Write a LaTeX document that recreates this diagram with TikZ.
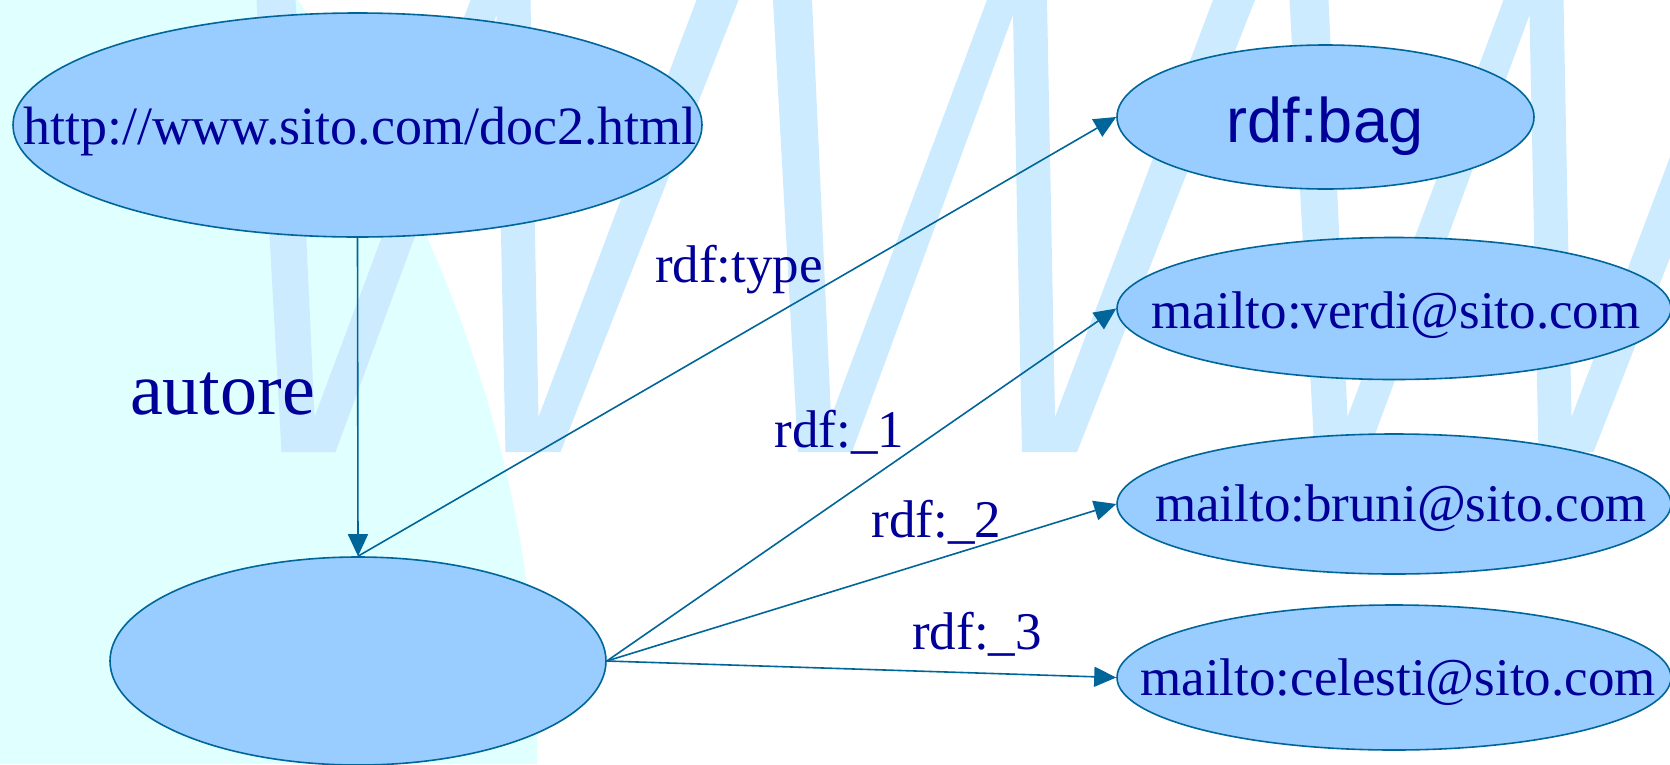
\documentclass[tikz,border=0pt]{standalone}
\usepackage{fontspec}
\setmainfont{Liberation Serif}
\newfontfamily\sansf{Liberation Sans}
\usetikzlibrary{shapes.geometric,arrows.meta}
\definecolor{bgcyan}{RGB}{224,255,255}
\definecolor{wmblue}{RGB}{204,235,255}
\definecolor{fillblue}{RGB}{153,204,255}
\definecolor{edgeblue}{RGB}{0,102,153}
\definecolor{navy}{RGB}{0,0,153}
\tikzset{
  ell/.style={ellipse, draw=edgeblue, fill=fillblue, line width=1.6pt, inner sep=0pt},
  txt/.style={text=navy, font=\fontsize{53}{60}\selectfont, anchor=base, inner sep=0pt},
  sanstxt/.style={text=navy, font=\sansf\fontsize{63}{70}\selectfont, anchor=base, inner sep=0pt},
  bigtxt/.style={text=navy, font=\fontsize{74}{80}\selectfont, anchor=base, inner sep=0pt},
  arr/.style={draw=edgeblue, line width=1.6pt, -{Triangle[length=22pt,width=20pt]}},
  wm/.style={fill=wmblue},
}
\begin{document}
\begin{tikzpicture}[x=1pt,y=-1pt]
\useasboundingbox (0,0) rectangle (1670,764);
\clip (0,0) rectangle (1670,764);
% background
\fill[white] (0,0) rectangle (1670,764);
\fill[bgcyan] (0,0) -- (298,0) .. controls (463,254.5) and (542.7,509.1) .. (537,764) -- (0,764) -- cycle;
% watermark W W W
\foreach \s in {-516.5,0,516.5}{
  \fill[wm, shift={(\s,0)}] (773,0) -- (798,452) -- (852,452) -- (1013,15) -- (1022,452)
    -- (1077,452) -- (1255,0) -- (1213,0) -- (1055,417) -- (1047,0) -- (987,0)
    -- (831,417) -- (812,0) -- cycle;
}
% ellipses
\node[ell, minimum width=689pt, minimum height=224pt] (http) at (357.5,125) {};
\node[ell, minimum width=496pt, minimum height=208pt] (blank) at (358,661) {};
\node[ell, minimum width=417pt, minimum height=144pt] (bag) at (1325.5,117) {};
\node[ell, minimum width=554pt, minimum height=142pt] (verdi) at (1394,308.5) {};
\node[ell, minimum width=554pt, minimum height=140pt] (bruni) at (1394,504) {};
\node[ell, minimum width=554pt, minimum height=145pt] (celesti) at (1394,677.5) {};
% texts in ellipses
\node[txt, font=\fontsize{54}{60}\selectfont] (thttp) at (360,144) {http://www.sito.com/doc2.html};
\node[sanstxt] (tbag) at (1325,142) {rdf:bag};
\node[txt] (tverdi) at (1396,328) {mailto:verdi@sito.com};
\node[txt] (tbruni) at (1401,521) {mailto:bruni@sito.com};
\node[txt] (tcelesti) at (1398,695) {mailto:celesti@sito.com};
% connectors
\draw[arr] (http.south) -- (blank.north);
\draw[arr] (blank.north) -- (bag.west);
\draw[arr] (blank.east) -- (verdi.west);
\draw[arr] (blank.east) -- (bruni.west);
\draw[arr] (blank.east) -- (celesti.west);
% labels
\node[bigtxt] (lautore) at (222.5,414) {autore};
\node[txt] (ltype) at (739,282) {rdf:type};
\node[txt] (l1) at (839.5,447) {rdf:\_1};
\node[txt] (l2) at (936.5,537) {rdf:\_2};
\node[txt] (l3) at (977,649) {rdf:\_3};
\end{tikzpicture}
\end{document}
